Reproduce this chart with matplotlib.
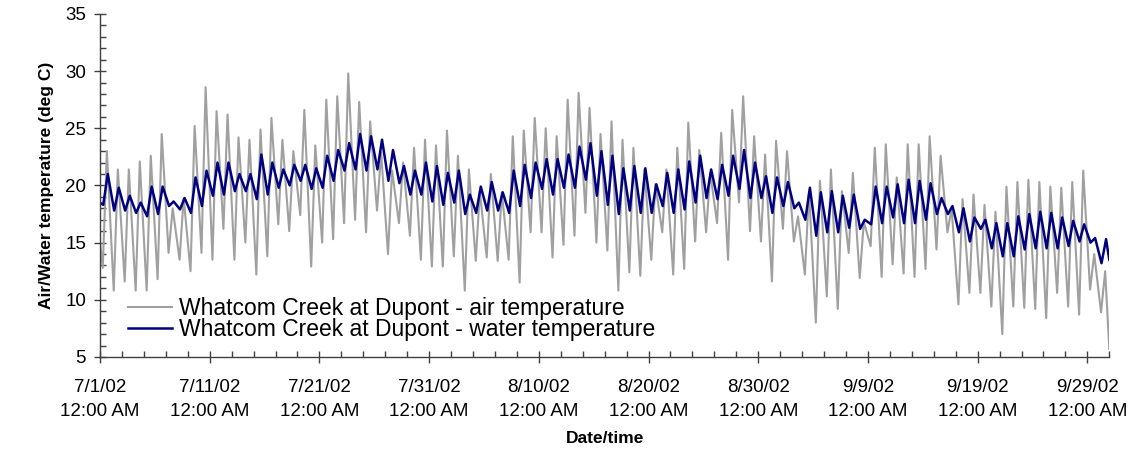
import numpy as np
import pandas as pd
import matplotlib
matplotlib.use("Agg")
import matplotlib.pyplot as plt
import matplotlib.dates as mdates
from matplotlib.ticker import FixedLocator, MultipleLocator, FuncFormatter

plt.rcParams['font.family'] = ['Liberation Sans', 'DejaVu Sans']

# daily readings, Whatcom Creek at Dupont, 7/1/02 - 9/30/02 (one entry per day)
start_date = pd.Timestamp('2002-07-01')
end_date = pd.Timestamp('2002-10-01')

air_low = [
    12.8, 10.8, 11.6, 10.8, 10.8, 11.8, 14.1, 13.5, 12.5, 14.1, 13.5, 16.2, 13.5, 15.0, 12.2,
    13.8, 16.6, 16.0, 17.4, 12.9, 15.0, 15.3, 16.7, 17.0, 15.9, 17.8, 14.0, 16.7, 15.6, 13.5,
    12.9, 12.9, 13.8, 10.8, 13.4, 13.7, 13.4, 13.5, 11.5, 15.9, 15.9, 13.7, 14.8, 15.6, 17.6,
    15.0, 14.3, 10.8, 12.4, 12.1, 13.5, 15.9, 12.2, 12.7, 15.1, 15.9, 16.7, 13.5, 18.5, 16.0,
    15.1, 11.6, 16.2, 15.1, 12.2, 8.0, 10.3, 9.2, 14.1, 11.9, 14.7, 12.0, 13.1, 12.3, 12.0,
    12.7, 14.4, 15.9, 9.6, 10.6, 10.6, 9.4, 7.0, 9.4, 9.3, 9.2, 8.4, 10.6, 9.4, 8.7, 10.9, 8.9,
]
air_high = [
    23.0, 21.4, 21.4, 22.1, 22.6, 24.5, 18.0, 18.9, 25.2, 28.6, 26.5, 26.2, 24.2, 24.0, 24.9,
    25.9, 24.0, 23.0, 26.6, 23.5, 27.5, 27.8, 29.8, 27.3, 25.6, 22.9, 21.3, 22.0, 23.3, 24.0,
    23.5, 24.8, 22.6, 21.4, 19.5, 21.0, 19.4, 24.3, 24.8, 25.9, 25.0, 24.3, 27.5, 28.1, 26.8,
    24.5, 25.6, 24.0, 23.3, 21.4, 20.1, 21.4, 23.3, 25.5, 23.1, 21.1, 24.6, 26.6, 27.8, 24.3,
    22.7, 23.9, 23.0, 17.3, 19.5, 20.4, 21.4, 19.5, 21.1, 16.8, 23.3, 23.6, 20.7, 23.6, 23.6,
    24.3, 22.6, 18.0, 18.8, 19.2, 18.3, 17.7, 19.9, 20.3, 20.5, 20.3, 19.9, 19.8, 20.3, 21.3, 14.0, 12.5,
]
water_low = [
    18.3, 17.8, 17.8, 17.6, 17.3, 17.5, 18.2, 17.9, 17.6, 18.2, 19.1, 19.2, 19.5, 19.5, 18.8,
    19.2, 19.8, 20.0, 20.4, 19.7, 19.8, 20.4, 21.3, 21.4, 21.3, 21.4, 20.4, 20.2, 19.2, 19.2,
    18.6, 18.3, 18.5, 17.5, 17.6, 17.8, 17.8, 17.6, 18.2, 18.9, 19.7, 19.2, 19.8, 19.8, 20.5,
    19.1, 18.3, 17.5, 17.8, 17.6, 17.6, 18.2, 17.6, 17.9, 18.5, 18.9, 18.8, 19.1, 19.7, 18.9,
    18.9, 17.6, 18.2, 18.0, 17.0, 15.6, 15.9, 15.9, 16.3, 16.2, 16.6, 16.7, 17.2, 16.7, 16.7,
    17.0, 17.5, 17.5, 15.9, 15.1, 16.2, 14.5, 13.8, 13.8, 14.4, 14.5, 14.5, 14.5, 14.7, 15.1, 15.0, 13.2,
]
water_high = [
    21.0, 19.8, 19.1, 18.5, 19.9, 19.9, 18.6, 18.9, 20.7, 21.3, 22.0, 22.0, 21.0, 21.0, 22.7,
    22.0, 21.4, 21.8, 21.8, 21.5, 22.6, 23.1, 23.7, 24.5, 24.3, 24.0, 23.1, 21.7, 21.3, 22.0,
    21.7, 21.1, 21.3, 19.2, 19.9, 20.3, 19.4, 21.3, 21.8, 22.0, 22.3, 22.3, 22.7, 23.4, 23.7,
    23.0, 22.6, 21.5, 21.7, 21.5, 20.1, 21.1, 21.4, 22.1, 22.6, 21.4, 21.8, 22.6, 23.1, 22.0,
    20.8, 20.7, 20.3, 18.5, 19.8, 19.4, 19.5, 19.1, 19.2, 17.0, 19.9, 19.9, 20.1, 20.5, 20.4,
    20.2, 18.9, 18.2, 18.0, 17.2, 17.0, 16.7, 16.7, 17.3, 17.5, 17.7, 17.6, 17.2, 16.9, 16.6, 15.4, 15.3,
]
# first and last logger readings
air_start, air_end = 15.0, 5.7
water_start, water_end = 18.5, 13.5

tick_dates = pd.date_range(start_date, periods=10, freq='10D')


def build_series(lows, highs, first, last, low_hour, high_hour):
    """Interleave the morning low and afternoon high of each day."""
    times = [start_date]
    vals = [first]
    for i, (lo, hi) in enumerate(zip(lows, highs)):
        day = start_date + pd.Timedelta(days=i)
        times += [day + pd.Timedelta(hours=low_hour), day + pd.Timedelta(hours=high_hour)]
        vals += [lo, hi]
    times.append(end_date)
    vals.append(last)
    return mdates.date2num(pd.to_datetime(times).to_pydatetime()), np.array(vals)


t_air, v_air = build_series(air_low, air_high, air_start, air_end, 6, 15)
t_wat, v_wat = build_series(water_low, water_high, water_start, water_end, 7, 17)

fig = plt.figure(figsize=(11.34, 4.49), dpi=100)
ax = fig.add_axes([0.0882, 0.205, 0.890, 0.764])

ax.plot(t_air, v_air, color='#a0a0a0', lw=1.5,
        label='Whatcom Creek at Dupont - air temperature')
ax.plot(t_wat, v_wat, color='#000080', lw=1.8,
        label='Whatcom Creek at Dupont - water temperature')

ax.set_xlim(mdates.date2num(start_date), mdates.date2num(end_date))
ax.set_ylim(5, 35)

ax.xaxis.set_major_locator(FixedLocator(mdates.date2num(tick_dates.to_pydatetime())))
ax.xaxis.set_minor_locator(FixedLocator(mdates.date2num(
    pd.date_range(start_date, end_date, freq='2D').to_pydatetime())))
ax.xaxis.set_major_formatter(FuncFormatter(
    lambda x, pos: f"{mdates.num2date(x).month}/{mdates.num2date(x).day}/02\n12:00 AM"))
ax.yaxis.set_major_locator(MultipleLocator(5))
ax.yaxis.set_minor_locator(MultipleLocator(1))

for side in ('top', 'right'):
    ax.spines[side].set_visible(False)
for side in ('left', 'bottom'):
    ax.spines[side].set_color('#404040')
    ax.spines[side].set_linewidth(1.0)

ax.tick_params(which='major', direction='inout', length=8, width=1.0, color='#404040',
               labelsize=13.5, pad=6)
ax.tick_params(which='minor', direction='in', length=4, width=1.0, color='#404040')
ax.tick_params(axis='x', which='major', pad=12)
for lab in ax.get_xticklabels():
    lab.set_linespacing(1.5)

ax.set_xlabel('Date/time', fontsize=12.5, fontweight='bold', labelpad=8)
ax.set_ylabel('Air/Water temperature (deg C)', fontsize=12.5, fontweight='bold', labelpad=8)

ax.legend(loc='lower left', bbox_to_anchor=(0.012, 0.0), frameon=False, fontsize=16.5,
          handlelength=1.9, handletextpad=0.3, labelspacing=-0.1, borderaxespad=0.3)

fig.savefig('out.png', dpi=100)
